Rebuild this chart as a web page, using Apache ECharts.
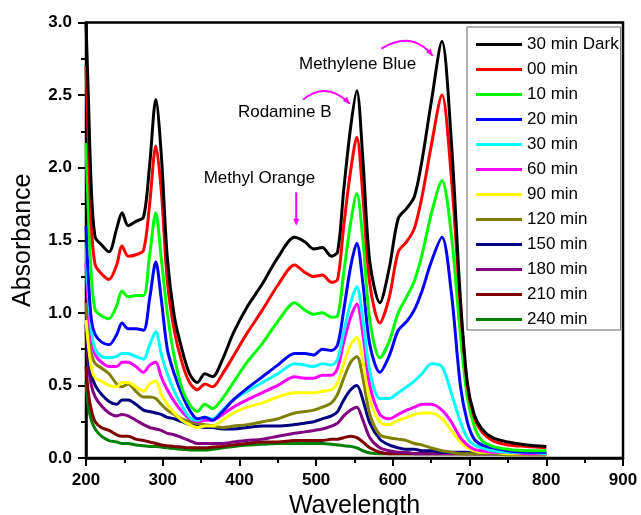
<!DOCTYPE html>
<html><head><meta charset="utf-8">
<script src="https://cdn.jsdelivr.net/npm/echarts@6/dist/echarts.min.js"></script>
<style>html,body{margin:0;padding:0;background:#fff}#c{width:641px;height:515px}</style>
</head><body><div id="c"></div>
<script>
const wavelengths = [200,203,207,212,220,230,240,247,255,265,275,283,291,298,306,315,325,335,345,355,365,378,392,410,430,450,472,485,497,508,520,528,536,545,553,561,570,583,595,607,618,628,638,650,664,676,688,697,706,716,730,750,775,800];

const seriesNames = ['30 min Dark','00 min','10 min','20 min','30 min','60 min','90 min','120 min','150 min','180 min','210 min','240 min'];
const seriesColors = ['#000000','#ff0000','#00ff00','#0000ff','#00ffff','#ff00ff','#ffff00','#808000','#000080','#800080','#800000','#008000'];

const absDark = [3.00,2.50,1.85,1.52,1.47, 1.42,1.58,1.69,1.60,1.63, 1.66,2.02,2.47,2.10,1.38, 0.98,0.75,0.58,0.52,0.58, 0.56,0.68,0.86,1.04,1.20, 1.38,1.52,1.49,1.44,1.45, 1.39,1.42,1.85,2.28,2.53, 2.05,1.35,1.07,1.30,1.65, 1.72,1.80,2.05,2.45,2.87, 2.20,1.10,0.52,0.30,0.20, 0.14,0.11,0.09,0.08];
const abs00 = [2.70,2.20,1.60,1.33,1.27, 1.23,1.33,1.46,1.39,1.40, 1.43,1.75,2.15,1.85,1.22, 0.88,0.66,0.52,0.47,0.51, 0.49,0.58,0.70,0.86,1.02, 1.19,1.33,1.28,1.25,1.26, 1.21,1.23,1.60,1.98,2.21, 1.80,1.20,0.93,1.10,1.42, 1.49,1.58,1.80,2.15,2.50, 1.95,1.05,0.50,0.28,0.18, 0.12,0.09,0.08,0.07];
const abs10 = [2.17,1.70,1.25,1.02,0.98, 0.96,1.05,1.15,1.11,1.12, 1.12,1.40,1.69,1.38,1.00, 0.70,0.48,0.37,0.32,0.37, 0.34,0.41,0.52,0.66,0.79, 0.94,1.07,1.02,0.99,1.00, 0.97,0.98,1.28,1.62,1.82, 1.50,0.95,0.69,0.80,1.00, 1.11,1.22,1.40,1.68,1.91, 1.55,0.85,0.42,0.22,0.12, 0.08,0.06,0.05,0.05];
const abs20 = [1.60,1.25,0.95,0.85,0.80, 0.78,0.85,0.93,0.89,0.89, 0.88,1.10,1.35,1.10,0.75, 0.58,0.44,0.33,0.27,0.28, 0.26,0.32,0.40,0.48,0.56, 0.64,0.72,0.72,0.71,0.75, 0.74,0.78,1.02,1.32,1.48, 1.20,0.78,0.59,0.70,0.88, 0.94,1.02,1.15,1.35,1.52, 1.15,0.50,0.25,0.13,0.09, 0.07,0.05,0.04,0.04];
const abs30 = [1.48,1.15,0.88,0.75,0.70, 0.69,0.70,0.72,0.72,0.70, 0.68,0.78,0.87,0.72,0.58, 0.46,0.36,0.28,0.26,0.28, 0.27,0.33,0.40,0.46,0.52, 0.58,0.65,0.64,0.63,0.65, 0.64,0.68,0.87,1.07,1.18, 0.95,0.60,0.41,0.41,0.45, 0.49,0.53,0.58,0.65,0.63, 0.45,0.25,0.14,0.09,0.07, 0.05,0.04,0.04,0.03];
const abs60 = [1.34,1.05,0.82,0.71,0.66, 0.63,0.63,0.66,0.66,0.63, 0.59,0.64,0.66,0.56,0.47, 0.39,0.32,0.27,0.25,0.26, 0.26,0.30,0.35,0.40,0.45, 0.50,0.56,0.55,0.55,0.57, 0.57,0.62,0.80,0.97,1.06, 0.85,0.50,0.30,0.27,0.30, 0.33,0.35,0.37,0.37,0.33, 0.25,0.14,0.09,0.06,0.05, 0.04,0.04,0.03,0.03];
const abs90 = [0.95,0.78,0.62,0.55,0.53, 0.50,0.49,0.52,0.52,0.49, 0.46,0.51,0.53,0.44,0.37, 0.31,0.26,0.23,0.21,0.22, 0.22,0.26,0.31,0.35,0.38, 0.42,0.45,0.45,0.45,0.46, 0.47,0.52,0.65,0.78,0.83, 0.67,0.40,0.25,0.23,0.26, 0.28,0.30,0.31,0.31,0.27, 0.19,0.11,0.07,0.05,0.04, 0.04,0.03,0.03,0.03];
const abs120 = [1.07,0.85,0.72,0.65,0.62, 0.58,0.51,0.49,0.51,0.46, 0.42,0.42,0.41,0.37,0.33, 0.30,0.27,0.25,0.24,0.23, 0.22,0.21,0.22,0.23,0.25, 0.27,0.31,0.32,0.33,0.35, 0.38,0.44,0.55,0.66,0.70, 0.55,0.30,0.16,0.14,0.13, 0.12,0.10,0.09,0.07,0.05, 0.04,0.03,0.03,0.03,0.03, 0.03,0.02,0.02,0.02];
const abs150 = [0.92,0.72,0.58,0.50,0.44, 0.39,0.37,0.40,0.40,0.37, 0.33,0.32,0.31,0.30,0.28, 0.27,0.25,0.23,0.22,0.21, 0.21,0.20,0.20,0.21,0.22, 0.22,0.23,0.24,0.25,0.27, 0.29,0.32,0.40,0.47,0.50, 0.40,0.24,0.13,0.09,0.07, 0.06,0.06,0.05,0.05,0.04, 0.04,0.04,0.04,0.03,0.03, 0.03,0.03,0.03,0.03];
const abs180 = [0.87,0.65,0.50,0.42,0.36, 0.31,0.29,0.30,0.29,0.26, 0.23,0.21,0.20,0.19,0.17, 0.16,0.14,0.12,0.10,0.10, 0.10,0.10,0.11,0.12,0.13, 0.15,0.17,0.18,0.19,0.20, 0.22,0.24,0.29,0.33,0.35, 0.26,0.14,0.07,0.05,0.04, 0.04,0.03,0.03,0.03,0.03, 0.03,0.03,0.03,0.03,0.03, 0.03,0.03,0.03,0.03];
const abs210 = [0.63,0.45,0.33,0.25,0.21, 0.19,0.16,0.15,0.15,0.13, 0.12,0.11,0.10,0.09,0.085, 0.08,0.075,0.07,0.07,0.07, 0.075,0.08,0.09,0.10,0.11, 0.11,0.12,0.12,0.12,0.12, 0.13,0.13,0.14,0.15,0.14, 0.11,0.07,0.04,0.03,0.03, 0.03,0.03,0.03,0.03,0.03, 0.03,0.03,0.03,0.03,0.03, 0.03,0.03,0.03,0.03];
const abs240 = [0.52,0.36,0.26,0.20,0.15, 0.12,0.11,0.10,0.10,0.09, 0.085,0.08,0.08,0.075,0.07, 0.065,0.06,0.055,0.055,0.055, 0.06,0.07,0.08,0.09,0.095, 0.10,0.10,0.10,0.10,0.10, 0.095,0.09,0.085,0.08,0.07, 0.05,0.035,0.03,0.03,0.03, 0.03,0.03,0.03,0.03,0.03, 0.03,0.03,0.03,0.03,0.03, 0.03,0.03,0.03,0.03];

const seriesValues = [absDark,abs00,abs10,abs20,abs30,abs60,abs90,abs120,abs150,abs180,abs210,abs240];

const xTicks = {min:200, max:900, interval:100};
const yTicks = {min:0, max:3, interval:0.5};

// annotations in data coordinates
const annotations = [
  {text:'Methyl Orange', at:[426,1.93]},
  {text:'Rodamine B', at:[459,2.38]},
  {text:'Methylene Blue', at:[554,2.71]}
];
const arrowStraight = {from:[474,1.83], to:[474,1.60]};
const arrowCurves = [
  {from:[483,2.47], ctrl:[514,2.60], to:[544,2.44]},
  {from:[585,2.82], ctrl:[625,2.95], to:[652,2.77]}
];

const FONT = 'Liberation Sans, Arial, sans-serif';
const chart = echarts.init(document.getElementById('c'), null, {renderer:'canvas'});

const series = seriesNames.map((name,i)=>({
  name, type:'line', symbol:'none', smooth:0.3,
  lineStyle:{color:seriesColors[i], width:3},
  itemStyle:{color:seriesColors[i]},
  z: 2 + (12 - i) * 0.01,
  data: wavelengths.map((w,k)=>[w, seriesValues[i][k]])
}));

const axisCommon = {
  axisLine:{show:true, onZero:false, lineStyle:{color:'#000', width:2.5}},
  axisTick:{show:true, inside:false, length:8, lineStyle:{color:'#000', width:2}},
  minorTick:{show:true, splitNumber:2, length:5, lineStyle:{color:'#000', width:2}},
  splitLine:{show:false},
  minorSplitLine:{show:false},
  axisLabel:{color:'#000', fontFamily:FONT, fontWeight:'bold', fontSize:17},
  nameLocation:'middle',
  nameTextStyle:{color:'#000', fontFamily:FONT, fontSize:25}
};

const option = {
  animation:false,
  backgroundColor:'#fff',
  grid:{left:86, right:18, top:22.5, bottom:57, show:true, borderColor:'#000', borderWidth:2.5,
        backgroundColor:'transparent', containLabel:false, outerBoundsMode:'none'},
  xAxis:Object.assign({}, axisCommon, {
    type:'value', min:xTicks.min, max:xTicks.max, interval:xTicks.interval,
    name:'Wavelength', nameGap:34,
    axisLabel:Object.assign({}, axisCommon.axisLabel, {margin:14})
  }),
  yAxis:Object.assign({}, axisCommon, {
    type:'value', min:yTicks.min, max:yTicks.max, interval:yTicks.interval,
    name:'Absorbance', nameGap:50,
    axisLabel:Object.assign({}, axisCommon.axisLabel, {margin:14, formatter:v=>v.toFixed(1)})
  }),
  legend:{
    orient:'vertical', left:467, top:27,
    icon:'rect', itemWidth:46, itemHeight:3, itemGap:8,
    padding:[9,2,2,9],
    borderColor:'#666', borderWidth:1, backgroundColor:'#fff',
    textStyle:{color:'#000', fontFamily:FONT, fontSize:17},
    data:seriesNames
  },
  series
};
chart.setOption(option);

const P = p => chart.convertToPixel({gridIndex:0}, p);
const MAG = '#ff00ff';
function arrowHead(tip, prev){
  const dx = tip[0]-prev[0], dy = tip[1]-prev[1];
  const L = Math.hypot(dx,dy) || 1;
  const ux = dx/L, uy = dy/L;
  const len = 7, hw = 3;
  const bx = tip[0]-ux*len, by = tip[1]-uy*len;
  return {type:'polygon', shape:{points:[[tip[0],tip[1]],[bx-uy*hw, by+ux*hw],[bx+uy*hw, by-ux*hw]]}, style:{fill:MAG}, z:100};
}
const g = [];
annotations.forEach(a=>{
  const p = P(a.at);
  g.push({type:'text', x:p[0], y:p[1], z:100, style:{text:a.text, fill:'#000', fontFamily:FONT, fontSize:17, align:'center', verticalAlign:'middle'}});
});
{
  const f = P(arrowStraight.from), t = P(arrowStraight.to);
  g.push({type:'line', shape:{x1:f[0], y1:f[1], x2:t[0], y2:t[1]-5}, style:{stroke:MAG, lineWidth:2}, z:100});
  g.push(arrowHead(t, f));
}
arrowCurves.forEach(c=>{
  const f = P(c.from), k = P(c.ctrl), t = P(c.to);
  g.push({type:'bezierCurve', shape:{x1:f[0], y1:f[1], cpx1:k[0], cpy1:k[1], x2:t[0], y2:t[1]}, style:{stroke:MAG, lineWidth:2, fill:null}, z:100});
  g.push(arrowHead(t, k));
});
chart.setOption({graphic:g});
</script>
</body></html>
